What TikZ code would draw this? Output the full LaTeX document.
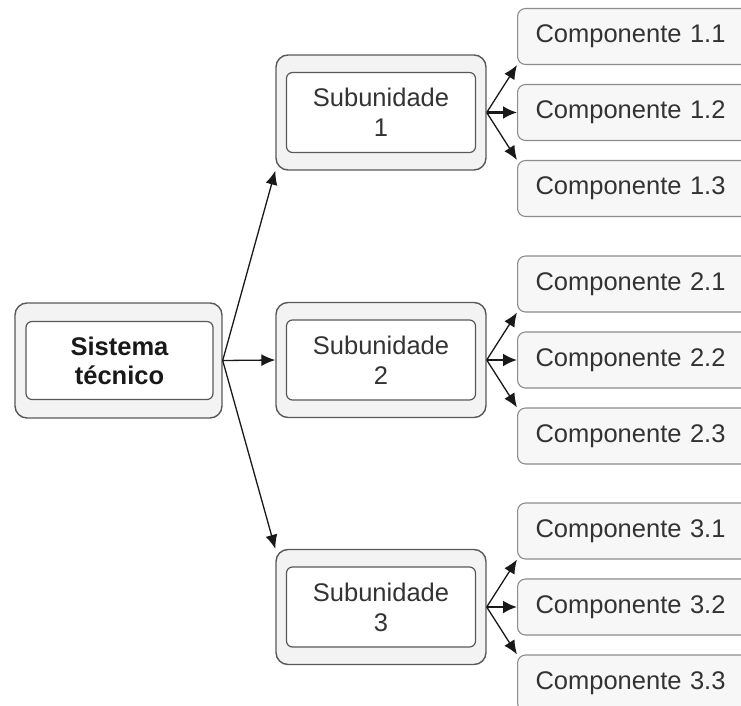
\documentclass[tikz,border=0pt]{standalone}
\usepackage{fontspec}
\setmainfont{Liberation Sans}
\usetikzlibrary{arrows.meta}
\definecolor{txt}{HTML}{333333}
\definecolor{outerfill}{HTML}{F3F3F3}
\definecolor{compfill}{HTML}{F7F7F7}
\begin{document}
\begin{tikzpicture}[x=1pt,y=-1pt,
  outerbox/.style={draw=black!65, line width=1.4pt, fill=outerfill,
    rounded corners=12pt, minimum width=210pt, minimum height=115pt, inner sep=0pt},
  innerbox/.style={draw=black!65, line width=1.2pt, fill=white,
    rounded corners=6pt, minimum width=189pt, minimum height=80pt, inner sep=0pt,
    align=center, text=txt, font=\fontsize{25.5}{30}\selectfont},
  compbox/.style={draw=black!45, line width=1.1pt, fill=compfill,
    rounded corners=8pt, minimum height=56pt, text width=234pt, inner xsep=18pt,
    inner ysep=0pt, align=left, anchor=west, text=txt,
    font=\fontsize{25.5}{30}\selectfont},
  link/.style={draw=black!90, line width=1.3pt, -{Latex[length=14pt,width=12pt]}},
  mainlink/.style={draw=black!90, line width=2.2pt, -{Latex[length=14pt,width=13pt]}}
]
\useasboundingbox (0,0) rectangle (741,706);
\clip (0,0) rectangle (741,706);

% system box
\node[outerbox, minimum width=207pt] (sys) at (118.5,360.5) {};
\node[innerbox, minimum width=187pt, minimum height=78pt, text=black!90,
  font=\fontsize{25.5}{29}\selectfont\bfseries] (sysin) at (119.5,360.5) {Sistema\\técnico};

% subunits
\foreach \i/\y in {1/112.5, 2/360, 3/607}{
  \node[outerbox] (sub\i) at (381,\y) {};
  \node[innerbox] (sub\i in) at (381,\y) {Subunidade\\\i};
}

% components
\foreach \i/\y in {1/112.5, 2/360, 3/607}{
  \node[compbox] (c\i1) at (517,\y-76) {Componente \i.1};
  \node[compbox] (c\i2) at (517,\y) {Componente \i.2};
  \node[compbox] (c\i3) at (517,\y+76) {Componente \i.3};
}

% system to subunits
\draw[link] (sys.east) -- (sub1.south west);
\draw[link] (sys.east) -- (sub2.west);
\draw[link] (sys.east) -- (sub3.north west);

% subunits to components
\foreach \i in {1,2,3}{
  \draw[link] (sub\i.east) -- (c\i1.south west);
  \draw[mainlink] (sub\i.east) -- (c\i2.west);
  \draw[link] (sub\i.east) -- (c\i3.north west);
}
\end{tikzpicture}
\end{document}
